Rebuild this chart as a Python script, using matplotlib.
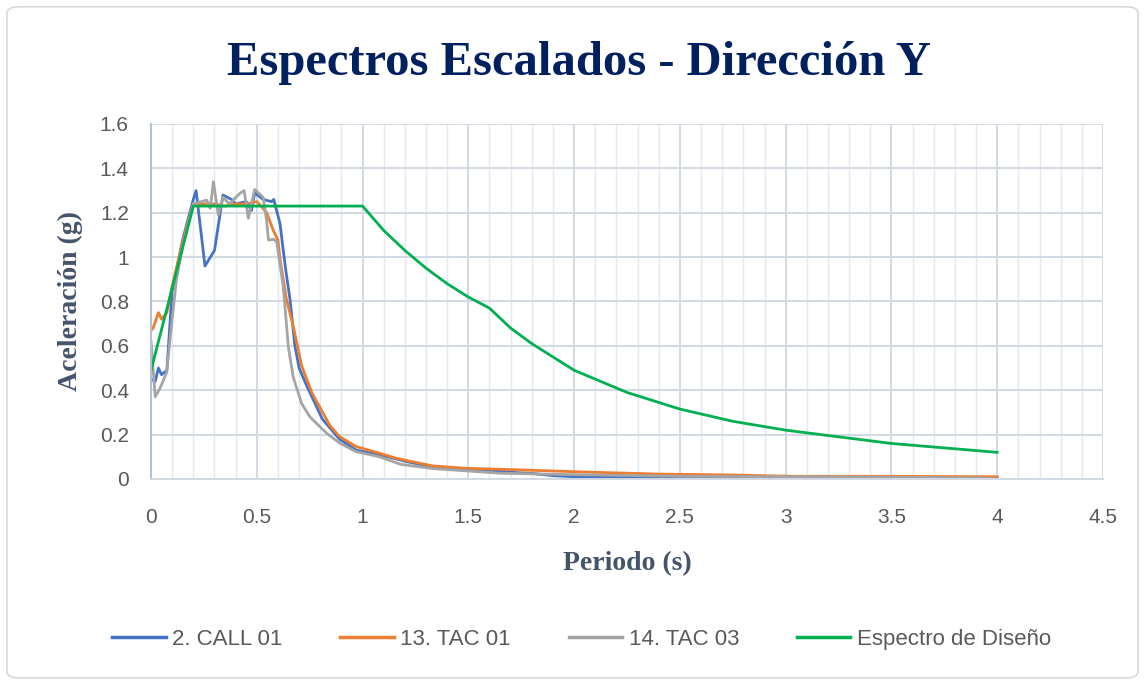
import matplotlib.pyplot as plt
from matplotlib.patches import FancyBboxPatch
from matplotlib.ticker import MultipleLocator

# datos
t_call = [0, 0.02, 0.035, 0.05, 0.075, 0.1, 0.15, 0.2, 0.213, 0.255, 0.3, 0.34, 0.38, 0.40,
          0.45, 0.475, 0.49, 0.53, 0.57, 0.58, 0.61, 0.625, 0.64, 0.657, 0.68, 0.70, 0.736,
          0.81, 0.89, 0.97, 1.1, 1.2, 1.3, 1.4, 1.5, 1.6, 1.7, 1.8, 1.9, 2.0, 2.2, 2.5, 3.0, 3.5, 4.0]
a_call = [0.45, 0.44, 0.50, 0.47, 0.49, 0.85, 1.08, 1.26, 1.30, 0.96, 1.03, 1.28, 1.26, 1.24,
          1.25, 1.21, 1.29, 1.26, 1.25, 1.26, 1.15, 1.03, 0.92, 0.81, 0.60, 0.50, 0.42,
          0.27, 0.18, 0.13, 0.105, 0.08, 0.06, 0.05, 0.043, 0.04, 0.03, 0.025, 0.015, 0.01, 0.008, 0.005, 0.005, 0.005, 0.005]

t_tac01 = [0, 0.01, 0.035, 0.05, 0.075, 0.1, 0.15, 0.2, 0.25, 0.3, 0.35, 0.4, 0.45, 0.5, 0.52,
           0.547, 0.578, 0.6, 0.61, 0.64, 0.672, 0.712, 0.76, 0.846, 0.893, 0.97, 1.08, 1.16,
           1.33, 1.49, 1.65, 1.99, 2.4, 2.75, 3.03, 3.5, 4.0]
a_tac01 = [0.67, 0.68, 0.75, 0.72, 0.75, 0.87, 1.07, 1.24, 1.24, 1.24, 1.23, 1.24, 1.24, 1.25, 1.23,
           1.20, 1.12, 1.077, 0.99, 0.81, 0.69, 0.51, 0.39, 0.24, 0.19, 0.146, 0.116, 0.093,
           0.059, 0.048, 0.044, 0.033, 0.022, 0.018, 0.012, 0.012, 0.01]

t_tac03 = [0, 0.02, 0.043, 0.074, 0.09, 0.12, 0.15, 0.2, 0.263, 0.28, 0.295, 0.318, 0.34, 0.37,
           0.42, 0.44, 0.46, 0.49, 0.53, 0.547, 0.555, 0.58, 0.594, 0.625, 0.649, 0.672, 0.712,
           0.751, 0.83, 0.893, 0.97, 1.08, 1.18, 1.33, 1.65, 1.96, 2.5, 3.0, 3.5, 3.9, 4.0]
a_tac03 = [0.62, 0.37, 0.41, 0.48, 0.63, 0.9, 1.05, 1.24, 1.257, 1.22, 1.34, 1.19, 1.27, 1.24,
           1.287, 1.30, 1.175, 1.305, 1.27, 1.16, 1.077, 1.08, 1.07, 0.867, 0.596, 0.46, 0.34,
           0.28, 0.206, 0.161, 0.123, 0.10, 0.066, 0.047, 0.026, 0.02, 0.012, 0.01, 0.008, 0.005, 0.0]

t_dis = [0, 0.2, 1.0, 1.1, 1.2, 1.3, 1.4, 1.5, 1.6, 1.7, 1.8, 1.9, 2.0, 2.25, 2.5, 2.75, 3.0, 3.5, 4.0]
a_dis = [0.49, 1.23, 1.23, 1.12, 1.03, 0.95, 0.88, 0.82, 0.77, 0.68, 0.61, 0.55, 0.49, 0.39,
         0.315, 0.26, 0.22, 0.16, 0.12]

series = [
    ('2. CALL 01', t_call, a_call, '#4472C4'),
    ('13. TAC 01', t_tac01, a_tac01, '#ED7D31'),
    ('14. TAC 03', t_tac03, a_tac03, '#A5A5A5'),
    ('Espectro de Diseño', t_dis, a_dis, '#00B050'),
]

sans = ['Liberation Sans', 'DejaVu Sans']
serif = ['Liberation Serif', 'DejaVu Serif']

fig = plt.figure(figsize=(11.45, 6.82), dpi=100)
border = FancyBboxPatch((0.006, 0.006), 0.988, 0.984, boxstyle='round,pad=0,rounding_size=0.01',
                        transform=fig.transFigure, facecolor='white',
                        edgecolor='#D9D9D9', linewidth=1.2, zorder=-10)
fig.patches.append(border)

ax = fig.add_axes([0.1319, 0.2977, 0.8314, 0.5205])
ax.set_facecolor('none')

for name, t, a, c in series:
    ax.plot(t, a, color=c, linewidth=2.0, label=name)

ax.set_xlim(0, 4.5)
ax.set_ylim(0, 1.6)
ax.xaxis.set_major_locator(MultipleLocator(0.5))
ax.xaxis.set_minor_locator(MultipleLocator(0.1))
ax.yaxis.set_major_locator(MultipleLocator(0.2))
ax.grid(which='major', axis='both', color='#D3D9E3', linewidth=1.4)
ax.grid(which='minor', axis='x', color='#E4E8EE', linewidth=1.0)
ax.set_axisbelow(True)

ax.set_xticks([0, 0.5, 1, 1.5, 2, 2.5, 3, 3.5, 4, 4.5])
ax.set_xticklabels(['0', '0.5', '1', '1.5', '2', '2.5', '3', '3.5', '4', '4.5'])
ax.set_yticks([0, 0.2, 0.4, 0.6, 0.8, 1.0, 1.2, 1.4, 1.6])
ax.set_yticklabels(['0', '0.2', '0.4', '0.6', '0.8', '1', '1.2', '1.4', '1.6'])
ax.tick_params(which='both', length=0, colors='#595959', labelsize=15)
ax.tick_params(axis='x', pad=21)
ax.tick_params(axis='y', pad=16)
for lab in ax.get_xticklabels() + ax.get_yticklabels():
    lab.set_family(sans)

for s in ['top', 'right']:
    ax.spines[s].set_visible(False)
ax.spines['left'].set_color('#B4C0D3')
ax.spines['left'].set_linewidth(1.5)
ax.spines['bottom'].set_color('#D3D9E3')
ax.spines['bottom'].set_linewidth(1.4)

ax.set_xlabel('Periodo (s)', fontsize=20, fontweight='bold', family=serif, color='#44546A', labelpad=17)
ax.set_ylabel('Aceleración (g)', fontsize=20, fontweight='bold', family=serif, color='#44546A', labelpad=12)

fig.text(0.506, 0.908, 'Espectros Escalados - Dirección Y', ha='center', va='center',
         fontsize=35, fontweight='bold', family=serif, color='#002060')

leg = fig.legend(loc='center', bbox_to_anchor=(0.508, 0.062), ncol=4, frameon=False,
                 prop={'family': sans, 'size': 16}, handlelength=2.4, columnspacing=2.6,
                 handletextpad=0.3)
for txt in leg.get_texts():
    txt.set_color('#595959')
for h in leg.legend_handles:
    h.set_linewidth(2.5)

fig.savefig('out.png', dpi=100)
